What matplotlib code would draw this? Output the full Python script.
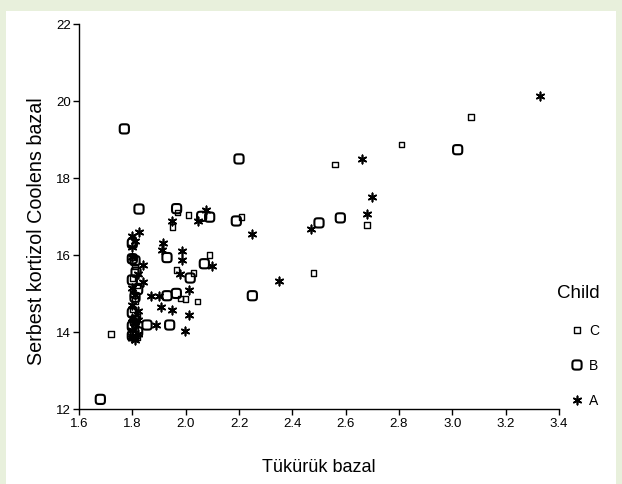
import numpy as np
import matplotlib
matplotlib.use("Agg")
import matplotlib.pyplot as plt
from matplotlib.path import Path
from matplotlib.patches import Rectangle

plt.rcParams['font.family'] = ['Liberation Sans', 'DejaVu Sans']

# Child C (small squares)
c_x = [1.72, 3.07, 2.81, 2.56, 2.68, 2.48, 2.21, 1.97, 2.01, 1.95, 2.09, 1.965, 2.03,
       1.98, 2.00, 2.045,
       1.80, 1.81, 1.80, 1.82, 1.80, 1.81, 1.80, 1.82, 1.80, 1.81, 1.80, 1.82]
c_y = [13.95, 19.58, 18.86, 18.34, 16.78, 15.53, 16.99, 17.1, 17.04, 16.73, 16.0, 15.61, 15.53,
       14.87, 14.85, 14.79,
       15.95, 15.7, 15.4, 15.2, 15.0, 14.8, 14.6, 14.4, 14.25, 14.1, 13.95, 13.85]

# Child B (rounded squares)
b_x = [1.68, 1.77, 3.02, 2.20, 2.58, 2.50, 2.19, 2.25, 1.825, 1.966, 2.06, 2.09, 1.93,
       2.07, 2.017, 1.814, 1.93, 1.965, 1.855, 1.94,
       1.80, 1.80, 1.81, 1.80, 1.82, 1.81, 1.80, 1.81, 1.80, 1.82, 1.80]
b_y = [12.25, 19.27, 18.73, 18.49, 16.96, 16.83, 16.88, 14.94, 17.19, 17.2, 17.0, 16.98, 15.93,
       15.77, 15.4, 15.55, 14.94, 15.0, 14.18, 14.18,
       16.3, 15.9, 15.85, 15.35, 15.1, 14.9, 14.5, 14.3, 14.15, 14.0, 13.9]

# Child A (asterisks)
a_x = [3.33, 2.66, 2.70, 2.68, 2.47, 2.35, 2.25, 2.076, 2.045, 1.95, 1.825, 1.915, 1.91,
       1.985, 1.985, 2.097, 1.98, 1.84, 1.84, 1.87, 1.90, 2.014, 1.906, 1.95, 2.014,
       1.89, 1.998,
       1.80, 1.81, 1.80, 1.80, 1.82, 1.80, 1.81, 1.80, 1.82, 1.80, 1.81, 1.80, 1.82,
       1.80, 1.81, 1.80, 1.82]
a_y = [20.13, 18.49, 17.5, 17.06, 16.68, 15.32, 16.55, 17.17, 16.87, 16.87, 16.6, 16.3, 16.13,
       16.1, 15.87, 15.7, 15.51, 15.74, 15.3, 14.94, 14.94, 15.09, 14.65, 14.58, 14.45,
       14.18, 14.03,
       16.5, 16.35, 16.2, 15.95, 15.5, 15.15, 14.95, 14.7, 14.55, 14.35, 14.2, 14.05, 13.95,
       13.85, 13.8, 13.9, 14.3]

x_ticks = [1.6, 1.8, 2.0, 2.2, 2.4, 2.6, 2.8, 3.0, 3.2, 3.4]
y_ticks = [12, 14, 16, 18, 20, 22]

# rounded square marker
t = np.linspace(0, 2 * np.pi, 60)
rx = np.sign(np.cos(t)) * np.abs(np.cos(t)) ** 0.5
ry = np.sign(np.sin(t)) * np.abs(np.sin(t)) ** 0.5
rsq = Path(np.column_stack([rx, ry]), closed=True)

star = (6, 2, 0)

W, H = 622, 485
fig = plt.figure(figsize=(W / 100, H / 100), dpi=100, facecolor='#e8f0dc')

# white panel, in pixel coordinates
bg = fig.add_axes([0, 0, 1, 1], zorder=-5)
bg.set_xlim(0, W)
bg.set_ylim(H, 0)
bg.axis('off')
bg.add_patch(Rectangle((6, 12), 610, H - 12, facecolor='white', edgecolor='none'))

ax = fig.add_axes([79 / W, 1 - 410 / H, 480 / W, (410 - 24.7) / H])
ax.set_facecolor('none')

sq_kw = dict(marker='s', s=16, facecolors='none', edgecolors='black', linewidths=1.0)
rs_kw = dict(marker=rsq, s=44, facecolors='none', edgecolors='black', linewidths=1.5)
st_kw = dict(marker=star, s=36, color='black', linewidths=1.2)

ax.scatter(c_x, c_y, clip_on=False, **sq_kw)
ax.scatter(b_x, b_y, clip_on=False, **rs_kw)
ax.scatter(a_x, a_y, clip_on=False, **st_kw)

ax.set_xlim(1.6, 3.4)
ax.set_ylim(12, 22)
ax.set_xticks(x_ticks)
ax.set_xticklabels([f'{v:.1f}' for v in x_ticks])
ax.set_yticks(y_ticks)
ax.spines['top'].set_visible(False)
ax.spines['right'].set_visible(False)
for s in ('left', 'bottom'):
    ax.spines[s].set_linewidth(1.0)
ax.tick_params(direction='out', length=4, width=1.0, labelsize=9.5, pad=2)

ax.set_xlabel('Tükürük bazal', fontsize=13, labelpad=21)
ax.set_ylabel('Serbest kortizol Coolens bazal', fontsize=14.2)
ax.yaxis.set_label_coords(-0.068, 0.465)

# legend drawn by hand, like the original
ov = fig.add_axes([0, 0, 1, 1], zorder=5)
ov.set_xlim(0, W)
ov.set_ylim(H, 0)
ov.axis('off')
ov.text(578, 294, 'Child', fontsize=13.5, ha='center', va='center')
for kw, lab, ypx in [(sq_kw, 'C', 331), (rs_kw, 'B', 366), (st_kw, 'A', 401)]:
    ov.scatter([577], [ypx], **kw)
    ov.text(589, ypx, lab, fontsize=10, ha='left', va='center')

fig.savefig('out.png', dpi=100, facecolor=fig.get_facecolor())
